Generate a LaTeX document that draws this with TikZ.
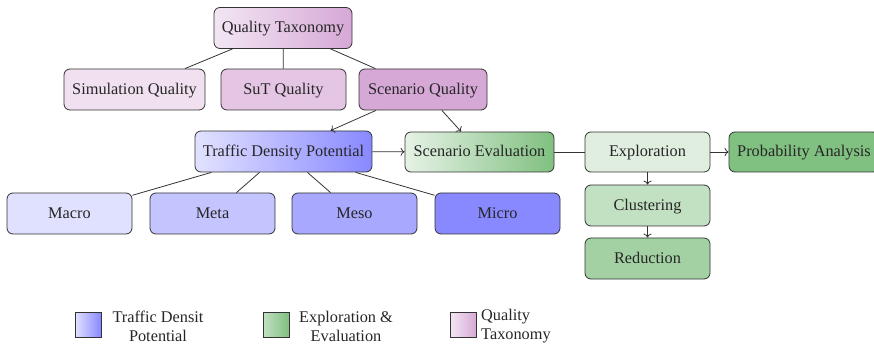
\documentclass[tikz,border=0pt]{standalone}
\usepackage{fontspec}
\setmainfont{Liberation Serif}
\usetikzlibrary{arrows.meta}

% fills
\definecolor{qtA}{HTML}{F3E6F3}
\definecolor{qtB}{HTML}{D6A8D6}
\definecolor{simq}{HTML}{F0E0F0}
\definecolor{sutq}{HTML}{E4C6E4}
\definecolor{scnq}{HTML}{D6A8D6}
\definecolor{tdA}{HTML}{E2E2FF}
\definecolor{tdB}{HTML}{8888FF}
\definecolor{macro}{HTML}{E0E0FF}
\definecolor{meta}{HTML}{C4C4FF}
\definecolor{meso}{HTML}{A8A8FF}
\definecolor{micro}{HTML}{8888FF}
\definecolor{evA}{HTML}{E6F2E6}
\definecolor{evB}{HTML}{80C080}
\definecolor{explo}{HTML}{DFEEDF}
\definecolor{clust}{HTML}{C2E0C2}
\definecolor{reduc}{HTML}{A3D1A3}
\definecolor{proba}{HTML}{80C080}
\definecolor{edge}{HTML}{333333}

\tikzset{
  box/.style={draw=edge, line width=0.8pt, rounded corners=6pt,
    minimum height=41pt, inner sep=2pt, text=black!85,
    text height=11pt, text depth=1.5pt,
    font=\fontsize{16.3}{19}\selectfont},
  link/.style={draw=edge, line width=0.8pt},
  flow/.style={link, -{To[length=4pt,width=8pt]}},
  key/.style={draw=edge, line width=0.8pt, minimum width=26pt,
    minimum height=25pt, inner sep=0pt},
  keytext/.style={text=black!85, align=center, inner sep=0pt,
    font=\fontsize{16.3}{19}\selectfont}
}

\begin{document}
\begin{tikzpicture}[x=1pt,y=-1pt]
\useasboundingbox (0,0) rectangle (874,344);

% quality taxonomy branch
\node[box, minimum width=138pt, left color=qtA, right color=qtB] (qt) at (283,28) {Quality Taxonomy};
\node[box, minimum width=141pt, fill=simq] (simq) at (134.5,89.5) {Simulation Quality};
\node[box, minimum width=125pt, fill=sutq] (sutq) at (283.5,89.5) {SuT Quality};
\node[box, minimum width=128pt, fill=scnq] (scnq) at (423,89.5) {Scenario Quality};

% traffic density branch
\node[box, minimum width=177pt, left color=tdA, right color=tdB] (tdp) at (283.5,151.5) {Traffic Density Potential};
\node[box, minimum width=125pt, fill=macro] (macro) at (69.5,213.5) {Macro};
\node[box, minimum width=125pt, fill=meta] (meta) at (212.5,213.5) {Meta};
\node[box, minimum width=125pt, fill=meso] (meso) at (354.5,213.5) {Meso};
\node[box, minimum width=125pt, fill=micro] (micro) at (497.5,213.5) {Micro};

% evaluation branch
\node[box, minimum width=149pt, minimum height=40pt, left color=evA, right color=evB] (sev) at (479.5,152) {Scenario Evaluation};
\node[box, minimum width=125pt, minimum height=40pt, fill=explo] (expl) at (647.5,152) {Exploration};
\node[box, minimum width=150pt, minimum height=40pt, fill=proba] (prob) at (804,152) {Probability Analysis};
\node[box, minimum width=125pt, fill=clust] (clus) at (647.5,205.5) {Clustering};
\node[box, minimum width=125pt, fill=reduc] (redu) at (647.5,258.5) {Reduction};

% connectors
\draw[link] (qt) -- (simq);
\draw[link] (qt) -- (sutq);
\draw[link] (qt) -- (scnq);
\draw[flow] (scnq) -- (tdp);
\draw[flow] (scnq) -- (sev);
\draw[flow] (tdp) -- (sev);
\draw[link] (tdp) -- (macro);
\draw[link] (tdp) -- (meta);
\draw[link] (tdp) -- (meso);
\draw[link] (tdp) -- (micro);
\draw[link] (sev) -- (expl);
\draw[flow] (expl) -- (prob);
\draw[flow] (expl) -- (clus);
\draw[flow] (clus) -- (redu);

% legend
\node[key, left color=tdA, right color=tdB] (k1) at (88,324.5) {};
\node[keytext] (t1) at (158,326) {Traffic Densit\\Potential};
\node[key, left color=clust, right color=evB] (k2) at (276,324.5) {};
\node[keytext] (t2) at (346,326) {Exploration \&\\Evaluation};
\node[key, left color=qtA, right color=qtB] (k3) at (463.5,324.5) {};
\node[keytext, align=left, anchor=west] (t3) at (481,326) {Quality\\Taxonomy};
\end{tikzpicture}
\end{document}
